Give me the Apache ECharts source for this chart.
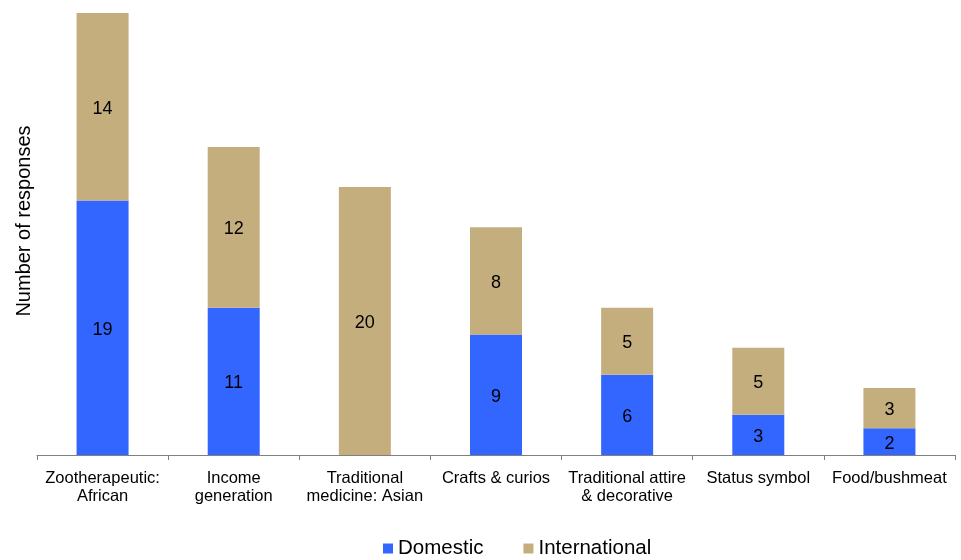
<!DOCTYPE html>
<html>
<head>
<meta charset="utf-8">
<script src="https://cdn.jsdelivr.net/npm/echarts@6/dist/echarts.min.js"></script>
<style>
  html, body { margin: 0; padding: 0; background: #fff; }
  #chart { width: 961px; height: 560px; }
</style>
</head>
<body>
<div id="chart"></div>
<script>
// Reasons for trade, split by domestic and international responses
const categories = [
  'Zootherapeutic:\nAfrican',
  'Income\ngeneration',
  'Traditional\nmedicine: Asian',
  'Crafts & curios',
  'Traditional attire\n& decorative',
  'Status symbol',
  'Food/bushmeat'
];
const domestic = [19, 11, 0, 9, 6, 3, 2];
const international = [14, 12, 20, 8, 5, 5, 3];
const seriesNames = ['Domestic', 'International'];
const yAxisTitle = 'Number of responses';

const FONT = 'Liberation Sans, Arial, sans-serif';

const valueLabel = {
  show: true,
  position: 'inside',
  offset: [0, 2],
  color: '#000',
  fontSize: 18,
  fontFamily: FONT,
  formatter: p => (p.value ? String(p.value) : '')
};

const chart = echarts.init(document.getElementById('chart'), null, { renderer: 'canvas' });
chart.setOption({
  animation: false,
  backgroundColor: '#fff',
  grid: { left: 37, right: 6, top: 13, bottom: 105, containLabel: false },
  legend: {
    top: 538,
    left: 383,
    padding: 0,
    itemWidth: 10,
    itemHeight: 10,
    itemGap: 40,
    icon: 'rect',
    textStyle: { fontSize: 20.5, fontFamily: FONT, color: '#000' },
    data: seriesNames
  },
  xAxis: {
    type: 'category',
    data: categories,
    axisLine: { show: true, lineStyle: { color: '#808080', width: 1 } },
    axisTick: { show: true, length: 5, alignWithLabel: false, lineStyle: { color: '#808080' } },
    axisLabel: {
      interval: 0,
      margin: 14,
      fontSize: 16.5,
      lineHeight: 18.5,
      fontFamily: FONT,
      color: '#000'
    }
  },
  yAxis: {
    type: 'value',
    min: 0,
    max: 33,
    name: yAxisTitle,
    nameLocation: 'middle',
    nameRotate: 90,
    nameGap: 3,
    nameTextStyle: { fontSize: 20, fontFamily: FONT, color: '#000', padding: [0, 0, 0, 26] },
    axisLine: { show: false },
    axisTick: { show: false },
    axisLabel: { show: false },
    splitLine: { show: false }
  },
  series: [
    {
      name: seriesNames[0],
      type: 'bar',
      stack: 'total',
      barWidth: 52,
      data: domestic,
      itemStyle: { color: '#3366FF' },
      label: valueLabel
    },
    {
      name: seriesNames[1],
      type: 'bar',
      stack: 'total',
      barWidth: 52,
      data: international,
      itemStyle: { color: '#C4AE7E' },
      label: valueLabel
    }
  ]
});
</script>
</body>
</html>
